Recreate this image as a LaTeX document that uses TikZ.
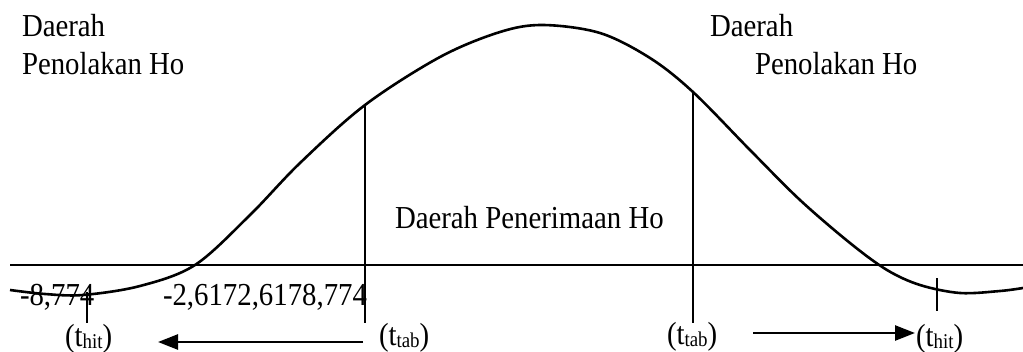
\documentclass[tikz,border=0pt]{standalone}
\usepackage{fontspec}
\setmainfont{Liberation Serif}
\usetikzlibrary{arrows.meta}
\newcommand{\tx}[1]{\scalebox{0.9}[1]{#1}}
\newcommand{\sbt}[1]{\raisebox{-2pt}{\fontsize{21}{23}\selectfont #1}}
\tikzset{
  lbl/.style={anchor=base west, inner sep=0pt, outer sep=0pt, font=\fontsize{32}{36}\selectfont},
  ln/.style={line width=2.6pt},
  arr/.style={line width=2.6pt, -{Triangle[length=20pt,width=15pt]}},
}
\begin{document}
\begin{tikzpicture}[x=1pt,y=-1pt]
\useasboundingbox (0,0) rectangle (1023,351);
% axis
\coordinate (axL) at (10,265);
\coordinate (axR) at (1023,265);
\draw[ln] (axL) -- (axR);
% curve
\draw[ln] plot[smooth, tension=0.55] coordinates {
 (10,290) (45,294) (83,295) (140,286) (195,265) (250,215) (300,163)
 (365,105) (440,57) (500,32) (543,25) (600,33) (650,58) (693,92)
 (750,150) (800,200) (850,243) (887,270) (920,285) (960,293) (1000,291) (1023,288)};
% verticals
\coordinate (v1t) at (365,104); \coordinate (v1b) at (365,323);
\coordinate (v2t) at (693,92);  \coordinate (v2b) at (693,323);
\draw[ln] (v1t) -- (v1b);
\draw[ln] (v2t) -- (v2b);
% ticks
\coordinate (k1t) at (87,292); \coordinate (k1b) at (87,323);
\coordinate (k2t) at (937,278); \coordinate (k2b) at (937,311);
\draw[ln] (k1t) -- (k1b);
\draw[ln] (k2t) -- (k2b);
% labels
\node[lbl] (dl1) at (22,36) {\tx{Daerah}};
\node[lbl] (dl2) at (22,74) {\tx{Penolakan Ho}};
\node[lbl] (dr1) at (710,36) {\tx{Daerah}};
\node[lbl] (dr2) at (755,74) {\tx{Penolakan Ho}};
\node[lbl] (dc) at (395,228) {\tx{Daerah Penerimaan Ho}};
\node[lbl] (n1) at (20,305) {\tx{-8,774}};
\node[lbl] (n2) at (163,305) {\tx{-2,6172,6178,774}};
\node[lbl] (th1) at (65,346) {\tx{(t\sbt{hit})}};
\node[lbl] (tt1) at (379,345) {\tx{(t\sbt{tab})}};
\node[lbl] (tt2) at (667,344) {\tx{(t\sbt{tab})}};
\node[lbl] (th2) at (916,346) {\tx{(t\sbt{hit})}};
% arrows
\coordinate (a1s) at (363,342); \coordinate (a1e) at (158,342);
\coordinate (a2s) at (753,333); \coordinate (a2e) at (915,333);
\draw[arr] (a1s) -- (a1e);
\draw[arr] (a2s) -- (a2e);
\end{tikzpicture}
\end{document}
